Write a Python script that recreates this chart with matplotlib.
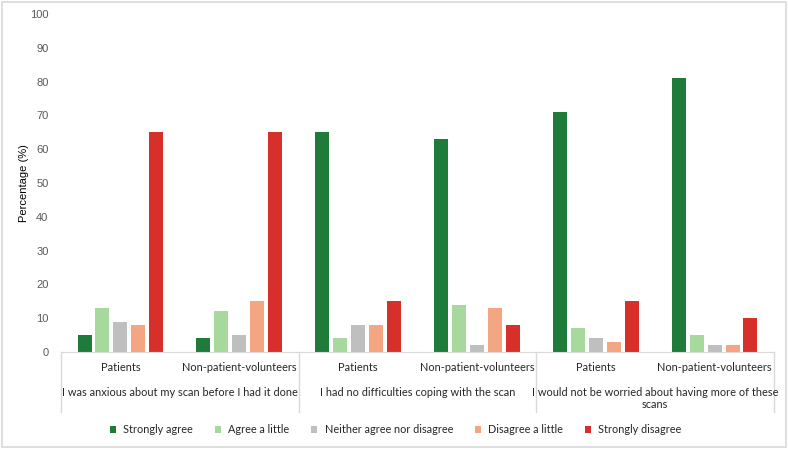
import matplotlib
matplotlib.use("Agg")
import matplotlib.pyplot as plt
from matplotlib.patches import Rectangle
import matplotlib.transforms as mtransforms

questions = ["I was anxious about my scan before I had it done",
             "I had no difficulties coping with the scan",
             "I would not be worried about having more of these\nscans"]
groups = ["Patients", "Non-patient-volunteers"]
responses = ["Strongly agree", "Agree a little", "Neither agree nor disagree",
             "Disagree a little", "Strongly disagree"]
colors = ["#1E7B3A", "#A8D99C", "#BFBFBF", "#F4A582", "#D7302A"]

strongly_agree = [5, 4, 65, 63, 71, 81]
agree_little = [13, 12, 4, 14, 7, 5]
neither = [9, 5, 8, 2, 4, 2]
disagree_little = [8, 15, 8, 13, 3, 2]
strongly_disagree = [65, 65, 15, 8, 15, 10]
series = [strongly_agree, agree_little, neither, disagree_little, strongly_disagree]

yticks = list(range(0, 101, 10))

plt.rcParams['font.family'] = ['Liberation Sans', 'DejaVu Sans']
fig = plt.figure(figsize=(7.88, 4.49), dpi=100)
fig.patches.append(Rectangle((0.003, 0.005), 0.994, 0.99, transform=fig.transFigure,
                             fill=False, edgecolor="#D9D9D9", linewidth=1.2))
ax = fig.add_axes([61/788, (449-352)/449, (774-61)/788, (352-14)/449])

n = len(strongly_agree)
step = 0.151
width = 0.118
for k, (vals, c, lab) in enumerate(zip(series, colors, responses)):
    xs = [i + 0.5 + (k - 2) * step for i in range(n)]
    ax.bar(xs, vals, width=width, color=c, label=lab)

ax.set_xlim(0, n)
ax.set_ylim(0, 100)
ax.set_yticks(yticks)
ax.tick_params(axis='y', length=0, labelsize=8, labelcolor="#595959", pad=9)
ax.set_xticks([])
for s in ["top", "right", "left"]:
    ax.spines[s].set_visible(False)
ax.spines["bottom"].set_color("#D9D9D9")
ax.set_ylabel("Percentage (%)", fontsize=8, color="#000000", labelpad=1)

lab_font = ["Lato", "DejaVu Sans"]
trans = mtransforms.blended_transform_factory(ax.transData, ax.transAxes)
for xb in range(0, n + 1, 2):
    ax.plot([xb, xb], [0, -0.178], transform=trans, color="#D9D9D9",
            linewidth=1, clip_on=False)
for i in range(n):
    ax.text(i + 0.5, -0.047, groups[i % 2], transform=trans, ha="center", va="center",
            fontsize=7.9, family=lab_font, color="#262626")
for j, q in enumerate(questions):
    ax.text(2 * j + 1, -0.103, q, transform=trans, ha="center", va="top",
            fontsize=7.9, family=lab_font, color="#262626",
            linespacing=1.15)

leg = fig.legend(loc="center", bbox_to_anchor=(0.502, 0.043), ncol=5, frameon=False,
                 handlelength=0.55, handleheight=0.55, columnspacing=2.0,
                 handletextpad=0.7, prop={"family": lab_font, "size": 7.8})
for t in leg.get_texts():
    t.set_color("#262626")

fig.savefig("out.png", dpi=100)
